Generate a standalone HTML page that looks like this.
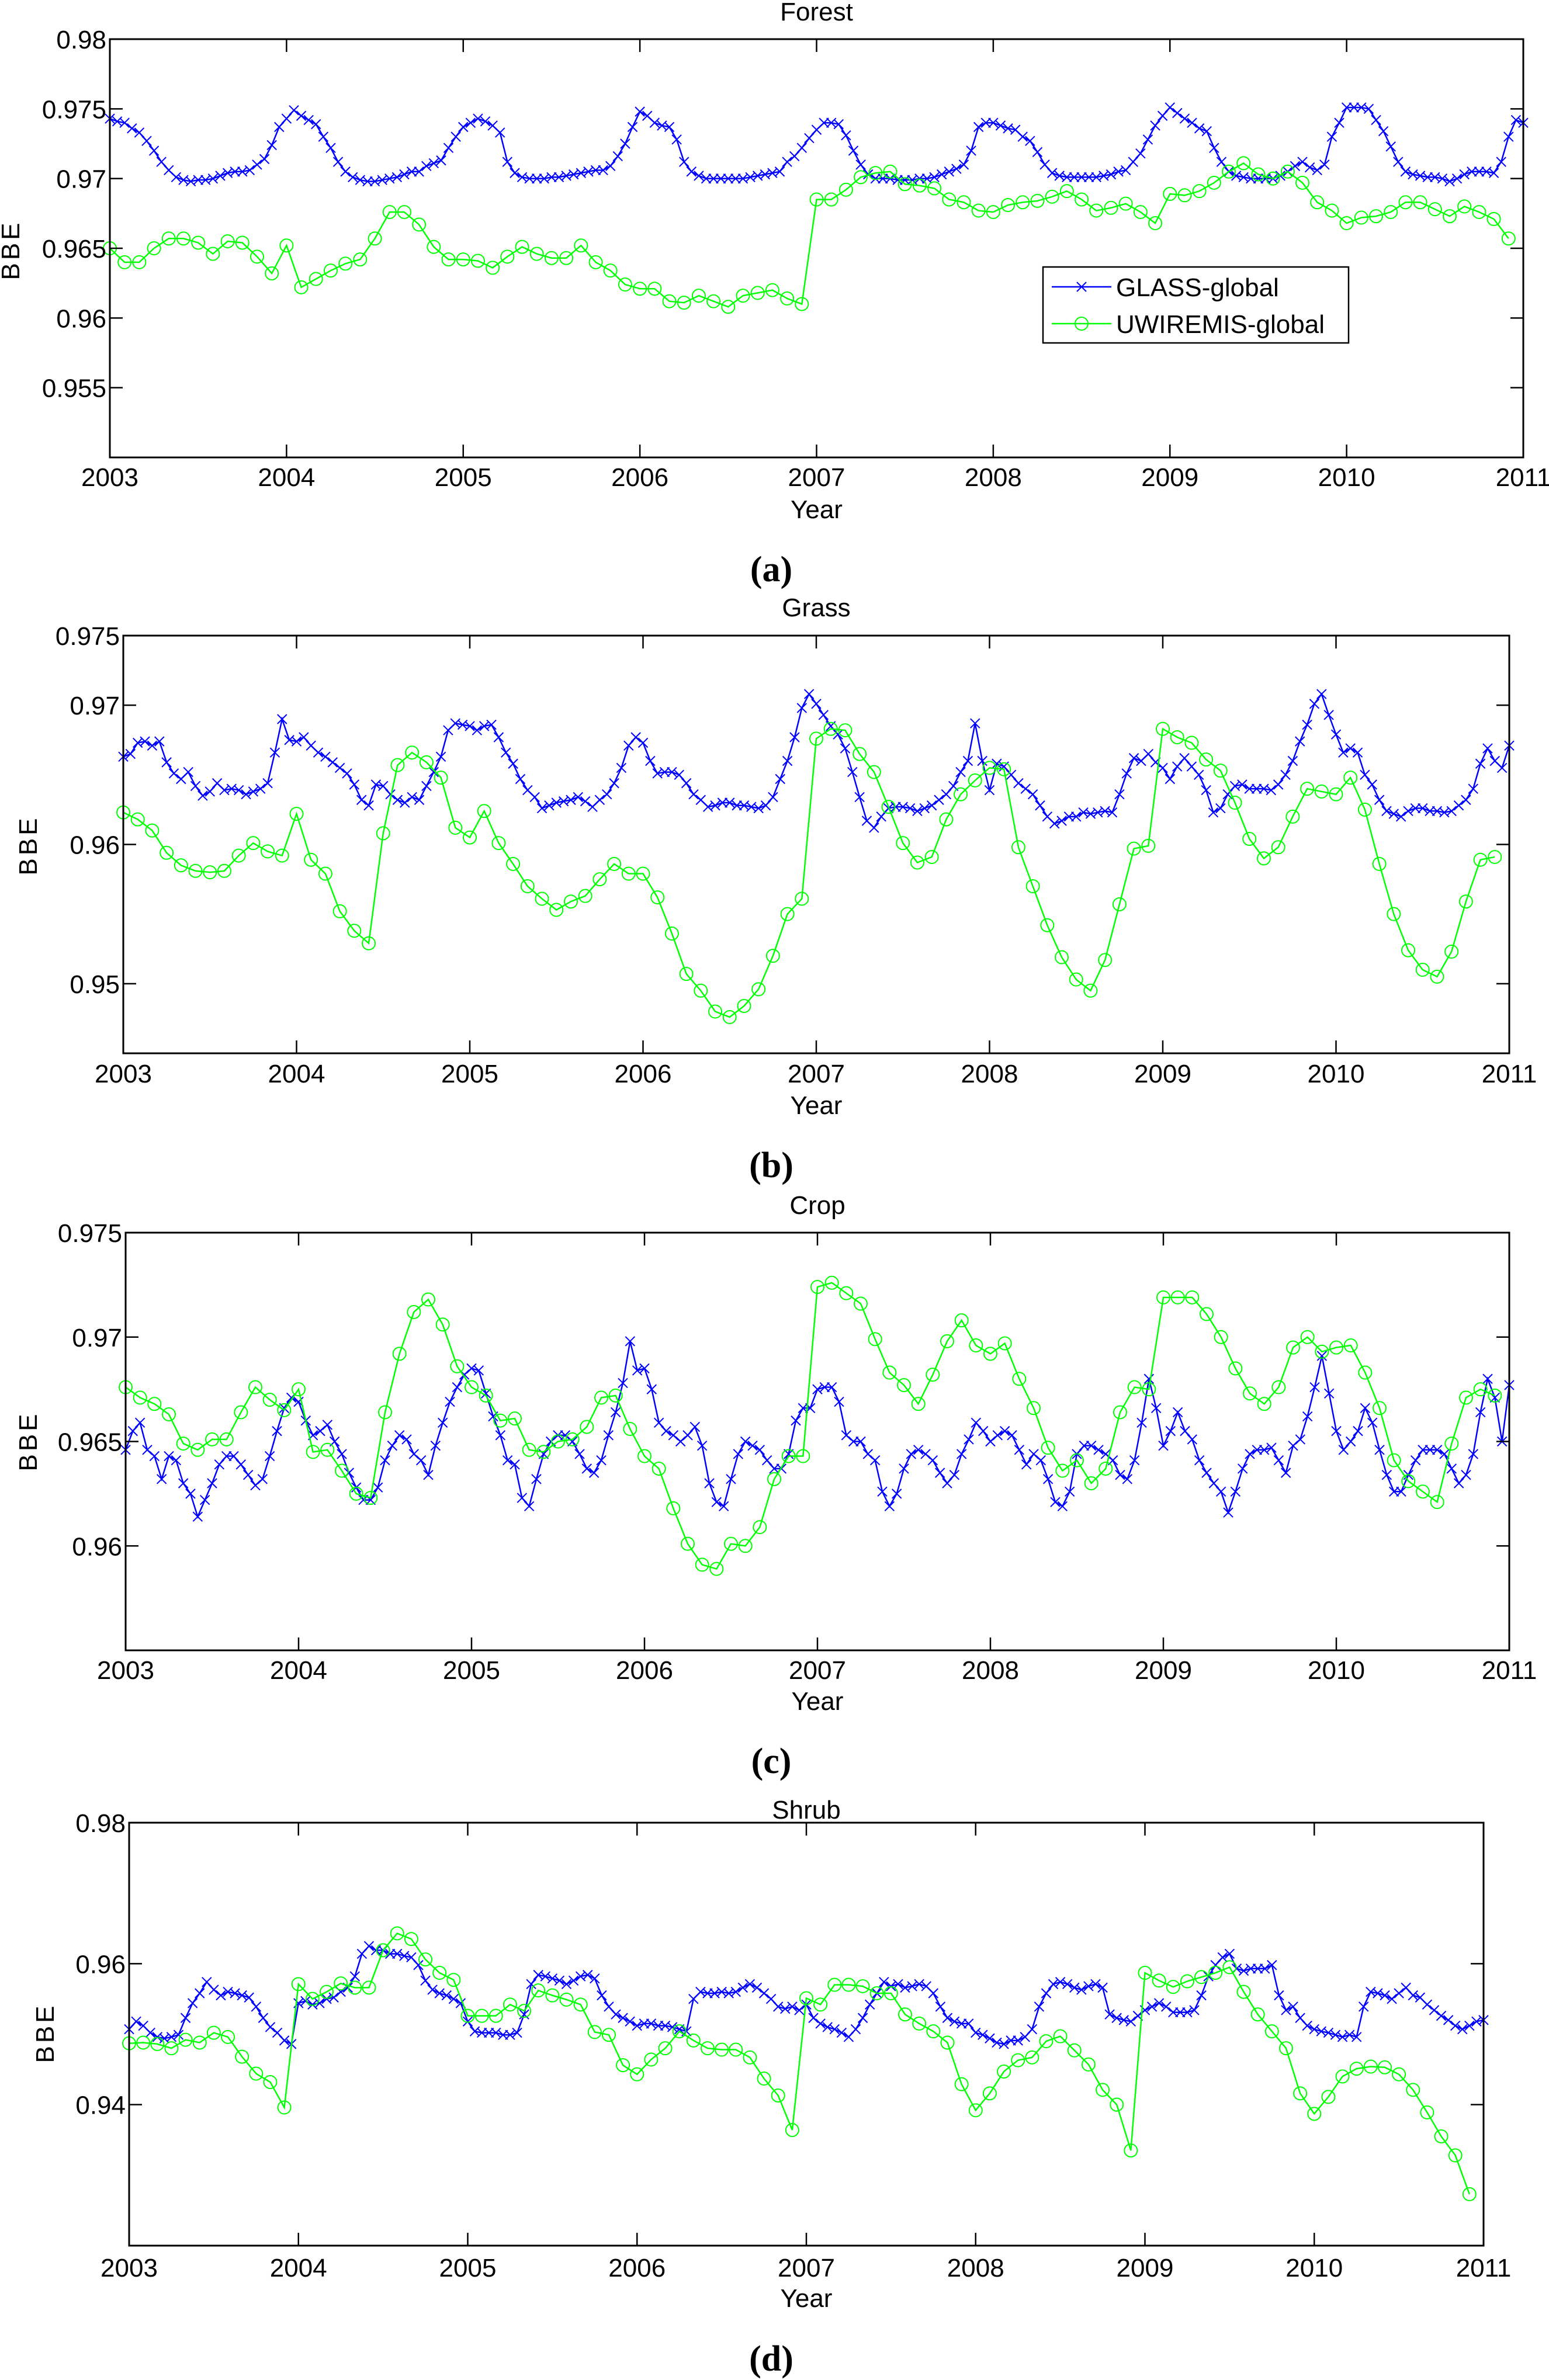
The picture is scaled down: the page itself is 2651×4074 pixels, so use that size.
<!DOCTYPE html>
<html><head><meta charset="utf-8"><style>
html,body{margin:0;padding:0;background:#fff;}
svg{display:block;}
text{font-family:"Liberation Sans",Arial,sans-serif;fill:#000;}
.cap{font-family:"Liberation Serif","Times New Roman",serif;font-weight:bold;}
</style></head><body>
<svg id="fig" xmlns="http://www.w3.org/2000/svg" width="2651" height="4074" viewBox="0 0 2651 4074"></svg>
<script>
// ---------- DATA ----------
const years = [2003,2004,2005,2006,2007,2008,2009,2010];
const xTickLabels = ["2003","2004","2005","2006","2007","2008","2009","2010","2011"];
const seriesNames = ["GLASS-global","UWIREMIS-global"];

// Forest
const forestGlass = [
.9743,.9741,.9740,.9736,.9733,.9727,.9720,.9712,.9706,.9701,.9699,.9698,.9699,.9699,.9700,.9702,.9704,.9705,.9705,.9706,.9710,.9714,.9724,.9737,
.9743,.9749,.9745,.9742,.9739,.9730,.9722,.9712,.9705,.9701,.9699,.9698,.9698,.9699,.9700,.9701,.9703,.9705,.9705,.9709,.9711,.9713,.9722,.9730,
.9737,.9740,.9743,.9741,.9738,.9733,.9712,.9704,.9701,.9700,.9700,.9700,.9701,.9701,.9702,.9703,.9704,.9705,.9706,.9706,.9709,.9716,.9725,.9737,
.9748,.9745,.9740,.9738,.9737,.9728,.9712,.9705,.9702,.9700,.9700,.9700,.9700,.9700,.9700,.9701,.9702,.9703,.9704,.9705,.9712,.9716,.9722,.9729,
.9735,.9740,.9740,.9739,.9731,.9720,.9710,.9703,.9700,.9700,.9700,.9699,.9699,.9699,.9700,.9700,.9701,.9703,.9705,.9707,.9710,.9720,.9737,.9740,
.9740,.9738,.9736,.9735,.9730,.9727,.9719,.9710,.9704,.9702,.9701,.9701,.9701,.9701,.9701,.9702,.9703,.9705,.9706,.9712,.9718,.9728,.9738,.9745,
.9751,.9747,.9743,.9740,.9736,.9734,.9722,.9712,.9705,.9702,.9701,.9700,.9700,.9700,.9700,.9702,.9705,.9709,.9712,.9708,.9706,.9710,.9730,.9740,
.9751,.9751,.9751,.9750,.9742,.9734,.9723,.9712,.9705,.9703,.9702,.9701,.9701,.9700,.9698,.9700,.9703,.9705,.9705,.9705,.9704,.9712,.9730,.9742,
.9740];
const forestUwi = [
.9650,.9640,.9640,.9650,.9657,.9657,.9654,.9646,.9655,.9654,.9644,.9632,
.9652,.9622,.9628,.9634,.9639,.9642,.9657,.9676,.9676,.9667,.9651,.9642,
.9642,.9641,.9636,.9644,.9651,.9646,.9643,.9643,.9652,.9640,.9634,.9624,
.9621,.9621,.9612,.9611,.9616,.9612,.9608,.9616,.9618,.9620,.9614,.9610,
.9685,.9685,.9692,.9701,.9704,.9705,.9696,.9695,.9693,.9685,.9683,.9677,
.9676,.9681,.9683,.9684,.9687,.9691,.9685,.9677,.9679,.9682,.9676,.9668,
.9689,.9688,.9691,.9697,.9705,.9711,.9703,.9700,.9705,.9697,.9683,.9677,
.9668,.9672,.9673,.9676,.9683,.9683,.9678,.9673,.9680,.9676,.9671,.9657];
const forestTicks = [0.955,0.96,0.965,0.97,0.975,0.98];
const forestTickLabels = ["0.955","0.96","0.965","0.97","0.975","0.98"];

// Grass
const grassGlass = [
.9663,.9665,.9673,.9674,.9671,.9674,.9659,.9651,.9647,.9652,.9642,.9635,.9638,.9644,.9639,.9640,.9639,.9636,.9638,.9640,.9644,.9666,.9690,.9675,
.9674,.9677,.9671,.9666,.9663,.9659,.9655,.9651,.9643,.9632,.9628,.9643,.9642,.9636,.9632,.9630,.9634,.9632,.9642,.9652,.9663,.9682,.9687,.9686,
.9685,.9682,.9685,.9686,.9677,.9666,.9658,.9647,.9639,.9634,.9626,.9628,.9630,.9631,.9632,.9634,.9631,.9627,.9632,.9636,.9644,.9655,.9671,.9677,
.9673,.9660,.9651,.9652,.9652,.9650,.9644,.9636,.9632,.9627,.9628,.9630,.9630,.9628,.9628,.9627,.9626,.9628,.9634,.9647,.9660,.9677,.9698,.9708,
.9701,.9693,.9685,.9679,.9669,.9652,.9634,.9617,.9612,.9620,.9626,.9627,.9627,.9626,.9624,.9626,.9628,.9632,.9636,.9642,.9652,.9660,.9687,.9660,
.9639,.9658,.9656,.9650,.9644,.9640,.9636,.9628,.9620,.9615,.9617,.9620,.9620,.9623,.9622,.9623,.9624,.9623,.9636,.9651,.9662,.9660,.9665,.9659,
.9655,.9647,.9656,.9662,.9656,.9650,.9639,.9623,.9626,.9636,.9642,.9643,.9640,.9640,.9640,.9639,.9643,.9650,.9660,.9674,.9686,.9701,.9708,.9693,
.9679,.9666,.9669,.9666,.9650,.9643,.9632,.9624,.9622,.9620,.9624,.9626,.9626,.9624,.9624,.9623,.9624,.9628,.9632,.9640,.9658,.9669,.9660,.9655,
.9671];
const grassUwi = [
.9623,.9618,.9610,.9594,.9585,.9581,.9580,.9581,.9592,.9601,.9595,.9592,
.9622,.9589,.9579,.9552,.9538,.9529,.9608,.9657,.9666,.9659,.9648,.9612,
.9605,.9624,.9601,.9586,.9570,.9561,.9553,.9559,.9563,.9575,.9586,.9579,
.9579,.9562,.9536,.9507,.9495,.9480,.9476,.9484,.9496,.9520,.9550,.9561,
.9676,.9683,.9682,.9665,.9652,.9627,.9601,.9587,.9591,.9618,.9636,.9646,
.9655,.9654,.9598,.9570,.9542,.9519,.9503,.9495,.9517,.9557,.9597,.9599,
.9683,.9677,.9673,.9661,.9653,.9630,.9604,.9590,.9598,.9620,.9640,.9638,
.9636,.9648,.9625,.9586,.9550,.9524,.9510,.9505,.9523,.9559,.9589,.9591];
const grassTicks = [0.95,0.96,0.97,0.975];
const grassTickLabels = ["0.95","0.96","0.97","0.975"];

// Crop
const cropGlass = [
.9646,.9655,.9659,.9646,.9643,.9632,.9643,.9641,.9630,.9625,.9614,.9622,.9630,.9639,.9643,.9643,.9639,.9634,.9629,.9632,.9643,.9655,.9666,.9671,
.9669,.9660,.9653,.9655,.9658,.9650,.9644,.9635,.9628,.9622,.9622,.9628,.9641,.9648,.9653,.9651,.9644,.9641,.9634,.9648,.9659,.9669,.9676,.9682,
.9685,.9684,.9673,.9662,.9653,.9641,.9639,.9623,.9619,.9632,.9644,.9650,.9653,.9653,.9650,.9644,.9637,.9635,.9641,.9653,.9664,.9678,.9698,.9684,
.9685,.9675,.9659,.9655,.9653,.9650,.9653,.9657,.9648,.9630,.9621,.9619,.9632,.9644,.9650,.9648,.9646,.9641,.9637,.9637,.9644,.9660,.9666,.9666,
.9675,.9676,.9676,.9669,.9653,.9650,.9650,.9644,.9641,.9626,.9619,.9625,.9637,.9644,.9646,.9644,.9641,.9635,.9630,.9634,.9644,.9651,.9659,.9655,
.9650,.9653,.9655,.9653,.9646,.9639,.9644,.9641,.9632,.9621,.9619,.9626,.9644,.9648,.9648,.9646,.9644,.9641,.9634,.9632,.9641,.9659,.9680,.9666,
.9648,.9655,.9664,.9655,.9651,.9641,.9635,.9630,.9626,.9616,.9626,.9637,.9644,.9646,.9646,.9647,.9641,.9635,.9648,.9651,.9662,.9676,.9691,.9673,
.9655,.9646,.9650,.9655,.9666,.9659,.9646,.9634,.9626,.9626,.9634,.9641,.9646,.9646,.9646,.9644,.9637,.9630,.9634,.9644,.9664,.9680,.9671,.9650,
.9677];
const cropUwi = [
.9676,.9671,.9668,.9663,.9649,.9646,.9651,.9651,.9664,.9676,.9670,.9665,
.9675,.9645,.9646,.9636,.9625,.9623,.9664,.9692,.9712,.9718,.9706,.9686,
.9676,.9672,.9660,.9661,.9646,.9645,.9650,.9651,.9657,.9671,.9672,.9656,
.9643,.9637,.9618,.9601,.9591,.9589,.9601,.9600,.9609,.9632,.9643,.9643,
.9724,.9726,.9721,.9716,.9699,.9683,.9677,.9668,.9682,.9698,.9708,.9696,
.9692,.9697,.9680,.9666,.9647,.9636,.9641,.9630,.9637,.9664,.9676,.9675,
.9719,.9719,.9719,.9711,.9700,.9685,.9673,.9668,.9676,.9695,.9700,.9693,
.9695,.9696,.9683,.9666,.9641,.9631,.9626,.9621,.9649,.9671,.9675,.9672];
const cropTicks = [0.96,0.965,0.97,0.975];
const cropTickLabels = ["0.96","0.965","0.97","0.975"];

// Shrub
const shrubGlass = [
.9507,.9518,.9512,.9502,.9496,.9494,.9496,.9499,.9523,.9544,.9558,.9574,.9563,.9555,.9560,.9558,.9555,.9552,.9539,.9523,.9510,.9502,.9491,.9486,
.9544,.9547,.9542,.9544,.9550,.9552,.9560,.9566,.9582,.9614,.9625,.9619,.9619,.9614,.9614,.9611,.9609,.9598,.9576,.9563,.9558,.9555,.9550,.9544,
.9518,.9504,.9502,.9502,.9502,.9499,.9499,.9502,.9528,.9571,.9584,.9582,.9579,.9576,.9571,.9576,.9582,.9584,.9579,.9555,.9539,.9528,.9523,.9518,
.9512,.9515,.9515,.9512,.9512,.9510,.9507,.9504,.9550,.9560,.9558,.9558,.9560,.9558,.9560,.9566,.9571,.9566,.9558,.9550,.9539,.9536,.9539,.9534,
.9542,.9523,.9515,.9510,.9507,.9502,.9496,.9507,.9523,.9542,.9558,.9574,.9568,.9571,.9566,.9568,.9571,.9568,.9558,.9539,.9523,.9518,.9515,.9515,
.9502,.9499,.9494,.9488,.9486,.9491,.9491,.9496,.9507,.9539,.9558,.9571,.9574,.9571,.9566,.9563,.9568,.9571,.9566,.9528,.9523,.9520,.9518,.9526,
.9534,.9539,.9544,.9539,.9531,.9531,.9531,.9534,.9555,.9582,.9598,.9609,.9614,.9593,.9590,.9593,.9593,.9593,.9598,.9555,.9534,.9539,.9523,.9512,
.9507,.9504,.9502,.9499,.9496,.9499,.9496,.9539,.9560,.9558,.9555,.9550,.9558,.9566,.9555,.9552,.9542,.9534,.9526,.9520,.9512,.9507,.9512,.9518,
.9520];
const shrubUwi = [
.9487,.9488,.9486,.9480,.9492,.9488,.9502,.9496,.9468,.9444,.9432,.9396,
.9571,.9550,.9560,.9572,.9566,.9566,.9619,.9643,.9635,.9606,.9587,.9577,
.9526,.9526,.9526,.9542,.9533,.9562,.9555,.9549,.9542,.9503,.9499,.9456,
.9443,.9464,.9480,.9504,.9491,.9480,.9478,.9478,.9467,.9437,.9413,.9364,
.9551,.9542,.9570,.9570,.9568,.9558,.9558,.9528,.9515,.9504,.9488,.9429,
.9392,.9416,.9447,.9463,.9467,.9490,.9497,.9477,.9457,.9421,.9400,.9335,
.9587,.9576,.9567,.9575,.9581,.9587,.9595,.9560,.9528,.9504,.9480,.9416,
.9387,.9411,.9440,.9451,.9454,.9453,.9443,.9421,.9389,.9355,.9328,.9273];
const shrubTicks = [0.94,0.96,0.98];
const shrubTickLabels = ["0.94","0.96","0.98"];

// ---------- DRAWING ----------
const NS = "http://www.w3.org/2000/svg";
const svg = document.getElementById('fig');
function mk(tag, attrs, parent){
  const e = document.createElementNS(NS, tag);
  for (const k in attrs) e.setAttribute(k, attrs[k]);
  (parent||svg).appendChild(e);
  return e;
}
const panels = [
 {key:'forest', title:'Forest', cap:'(a)', glass:forestGlass, uwi:forestUwi, ticks:forestTicks, tl:forestTickLabels,
  L:188,R:2607,T:67,B:783,ymin:0.95,ymax:0.98, titleY:35, xlabY:832, yearY:887, capY:995, bbeX:17, bbeY:428, legend:true},
 {key:'grass', title:'Grass', cap:'(b)', glass:grassGlass, uwi:grassUwi, ticks:grassTicks, tl:grassTickLabels,
  L:211,R:2583,T:1088,B:1803,ymin:0.945,ymax:0.975, titleY:1055, xlabY:1853, yearY:1907, capY:2015, bbeX:47, bbeY:1447},
 {key:'crop', title:'Crop', cap:'(c)', glass:cropGlass, uwi:cropUwi, ticks:cropTicks, tl:cropTickLabels,
  L:215,R:2583,T:2110,B:2825,ymin:0.955,ymax:0.975, titleY:2078, xlabY:2874, yearY:2927, capY:3035, bbeX:47, bbeY:2467},
 {key:'shrub', title:'Shrub', cap:'(d)', glass:shrubGlass, uwi:shrubUwi, ticks:shrubTicks, tl:shrubTickLabels,
  L:221,R:2539,T:3120,B:3844,ymin:0.92,ymax:0.98, titleY:3113, xlabY:3897, yearY:3949, capY:4058, bbeX:76, bbeY:3480}
];
function xMarker(g, x, y){
  const s = 8;
  const p = mk('path', {d:`M${x-s},${y-s}L${x+s},${y+s}M${x-s},${y+s}L${x+s},${y-s}`, stroke:'#0000ff','stroke-width':2, fill:'none'}, g);
  
  
}
function oMarker(g, x, y){
  const c = mk('circle', {cx:x, cy:y, r:11, stroke:'#00ff00','stroke-width':2, fill:'none'}, g);
  
  
}
panels.forEach(p => {
  const g = mk('g', {});
  
  
  const xs = t => p.L + (t - 2003) / 8 * (p.R - p.L);
  const ys = v => p.B - (v - p.ymin) / (p.ymax - p.ymin) * (p.B - p.T);
  // title
  const tt = mk('text', {x:(p.L+p.R)/2, y:p.titleY, 'font-size':44, 'text-anchor':'middle'}, g);
  tt.textContent = p.title;
  
  
  // series lines
  const gp = p.glass.map((v,i) => [xs(2003 + i/24), ys(v)]);
  const up = p.uwi.map((v,i) => [xs(2003 + i/12), ys(v)]);
  const gl = mk('polyline', {points:gp.map(q=>q.join(',')).join(' '), fill:'none', stroke:'#0000ff','stroke-width':2.5}, g);
  
  
  const gm = mk('g', {}, g);
  
  
  gp.forEach(q => xMarker(gm, q[0], q[1]));
  const ul = mk('polyline', {points:up.map(q=>q.join(',')).join(' '), fill:'none', stroke:'#00ff00','stroke-width':2.5}, g);
  
  
  const um = mk('g', {}, g);
  
  
  up.forEach(q => oMarker(um, q[0], q[1]));
  // frame
  const fr = mk('rect', {x:p.L, y:p.T, width:p.R-p.L, height:p.B-p.T, fill:'none', stroke:'#000','stroke-width':3}, g);
  
  
  // x ticks
  xTickLabels.forEach((lab, i) => {
    const x = xs(2003 + i);
    mk('line', {x1:x, y1:p.B, x2:x, y2:p.B-22, stroke:'#000','stroke-width':2.5}, g);
    mk('line', {x1:x, y1:p.T, x2:x, y2:p.T+22, stroke:'#000','stroke-width':2.5}, g);
    const t = mk('text', {x:x, y:p.xlabY, 'font-size':44, 'text-anchor':'middle'}, g);
    t.textContent = lab;
    
    
  });
  // y ticks
  p.ticks.forEach((v, i) => {
    const y = ys(v);
    mk('line', {x1:p.L, y1:y, x2:p.L+22, y2:y, stroke:'#000','stroke-width':2.5}, g);
    mk('line', {x1:p.R, y1:y, x2:p.R-22, y2:y, stroke:'#000','stroke-width':2.5}, g);
    const t = mk('text', {x:p.L-6, y:y+16, 'font-size':44, 'text-anchor':'end'}, g);
    t.textContent = p.tl[i];
    
    
  });
  // axis titles
  const yr = mk('text', {x:(p.L+p.R)/2, y:p.yearY, 'font-size':44, 'text-anchor':'middle'}, g);
  yr.textContent = 'Year';
  
  
  const bb = mk('text', {x:0, y:0, 'font-size':44, 'text-anchor':'middle', 'letter-spacing':5,
    transform:`translate(${p.bbeX+16},${p.bbeY}) rotate(-90)`}, g);
  bb.textContent = 'BBE';
  
  
  const cp = mk('text', {x:1320, y:p.capY, 'font-size':62, 'text-anchor':'middle', 'class':'cap'}, g);
  cp.textContent = p.cap;
  
  
  // legend
  if (p.legend) {
    const lg = mk('g', {}, g);
    
    
    mk('rect', {x:1785, y:457, width:523, height:130, fill:'#fff', stroke:'#000', 'stroke-width':2.5}, lg);
    const e1 = mk('g', {}, lg);
    
    
    mk('line', {x1:1800, y1:491, x2:1902, y2:491, stroke:'#0000ff','stroke-width':2.5}, e1);
    xMarker(e1, 1851, 491);
    const t1 = mk('text', {x:1910, y:507, 'font-size':44}, e1);
    t1.textContent = seriesNames[0];
    const e2 = mk('g', {}, lg);
    
    
    mk('line', {x1:1800, y1:554, x2:1902, y2:554, stroke:'#00ff00','stroke-width':2.5}, e2);
    oMarker(e2, 1851, 554);
    const t2 = mk('text', {x:1910, y:570, 'font-size':44}, e2);
    t2.textContent = seriesNames[1];
  }
});
</script>
</body></html>
